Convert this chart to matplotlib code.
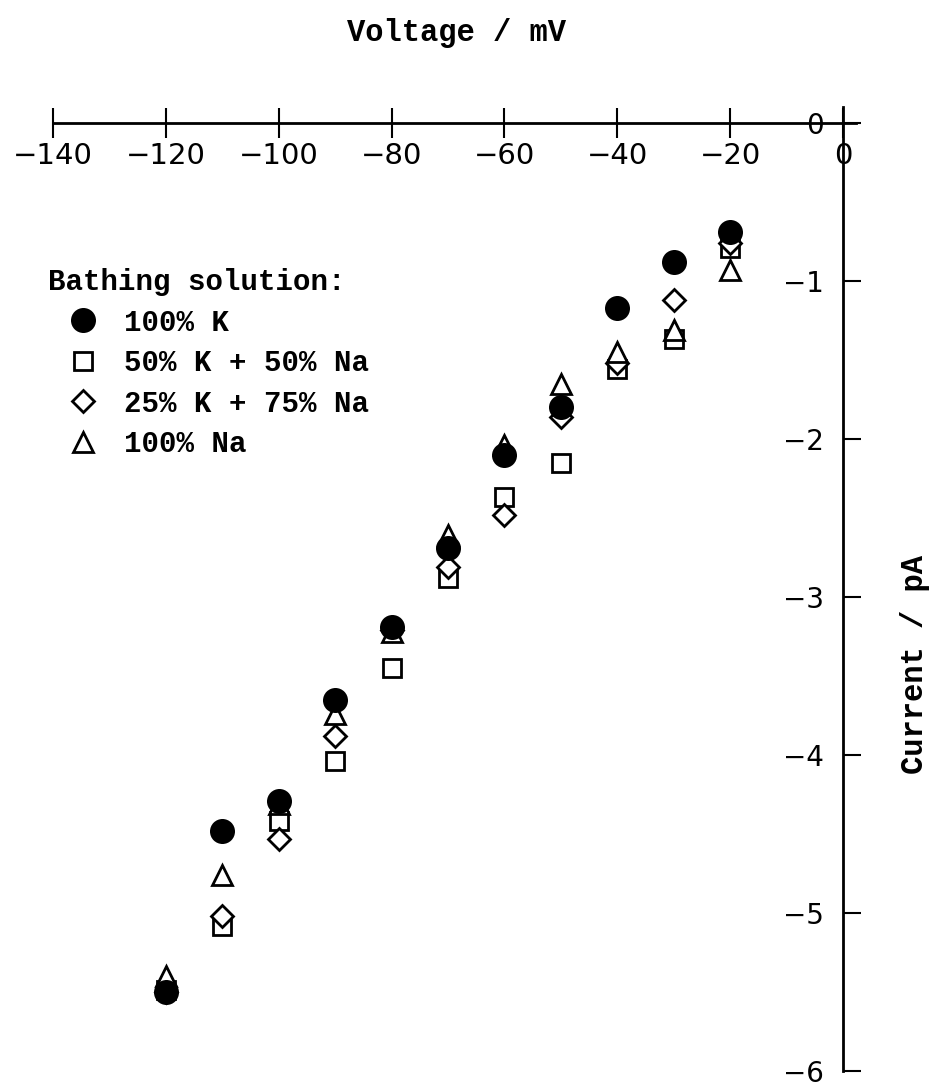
import matplotlib.pyplot as plt

# data
voltage = [-120, -110, -100, -90, -80, -70, -60, -50, -40, -30, -20]
k100 = [-5.50, -4.48, -4.29, -3.65, -3.19, -2.69, -2.10, -1.80, -1.17, -0.88, -0.69]
k50_na50 = [-5.49, -5.08, -4.42, -4.04, -3.45, -2.88, -2.37, -2.15, -1.56, -1.37, -0.79]
k25_na75 = [-5.50, -5.02, -4.53, -3.88, -3.21, -2.81, -2.48, -1.86, -1.52, -1.12, -0.76]
na100 = [-5.40, -4.76, -4.31, -3.74, -3.22, -2.61, -2.04, -1.65, -1.45, -1.31, -0.93]

x_ticks = [-140, -120, -100, -80, -60, -40, -20, 0]
y_ticks = [0, -1, -2, -3, -4, -5, -6]

TEXT_FONT = "Liberation Mono"


def main() -> None:
    fig = plt.figure(figsize=(9.37, 10.87), dpi=100)
    ax = fig.add_axes([53 / 937, 16 / 1087, (856 - 53) / 937, (1071 - 107) / 1087])

    common = dict(linestyle="none", mec="black", mew=2, clip_on=False)
    ax.plot(voltage, k50_na50, marker="s", ms=13.5, mfc="white", label="50% K + 50% Na", zorder=3, **common)
    ax.plot(voltage, k25_na75, marker="D", ms=11.5, mfc="white", label="25% K + 75% Na", zorder=4, **common)
    ax.plot(voltage, na100, marker="^", ms=15, mfc="white", label="100% Na", zorder=5, **common)
    ax.plot(voltage, k100, marker="o", ms=16, mfc="black", label="100% K", zorder=6, **common)

    ax.set_xlim(-140, 2.3)
    ax.set_ylim(-6, 0.1)

    for s in ("top", "right"):
        ax.spines[s].set_visible(False)
    ax.spines["bottom"].set_position(("data", 0))
    ax.spines["left"].set_position(("data", 0))
    for s in ("bottom", "left"):
        ax.spines[s].set_linewidth(2)

    ax.set_xticks(x_ticks)
    ax.set_yticks(y_ticks)
    ax.tick_params(axis="x", direction="inout", length=22, width=1.5, pad=3, labelsize=21)
    ax.tick_params(axis="y", direction="in", length=13, width=1.5, pad=14, labelsize=20)

    fig.text(457 / 937, 1 - 33 / 1087, "Voltage / mV", ha="center", va="center",
             family=TEXT_FONT, weight="bold", fontsize=22)
    fig.text(915 / 937, 1 - 665 / 1087, "Current / pA", ha="center", va="center",
             rotation=90, family=TEXT_FONT, weight="bold", fontsize=22)

    handles, labels = ax.get_legend_handles_labels()
    order = [3, 0, 1, 2]
    leg = ax.legend([handles[i] for i in order], [labels[i] for i in order],
                    title="Bathing solution:", loc="upper left",
                    bbox_to_anchor=(48 / 937, 1 - 268 / 1087), bbox_transform=fig.transFigure,
                    frameon=False, borderpad=0, borderaxespad=0, numpoints=1,
                    handlelength=2.4, handletextpad=0.2, labelspacing=0.43,
                    alignment="left", prop=dict(family=TEXT_FONT, weight="bold", size=21),
                    title_fontproperties=dict(family=TEXT_FONT, weight="bold", size=21))

    fig.savefig("out.png", dpi=100)
    plt.close(fig)


if __name__ == "__main__":
    main()
